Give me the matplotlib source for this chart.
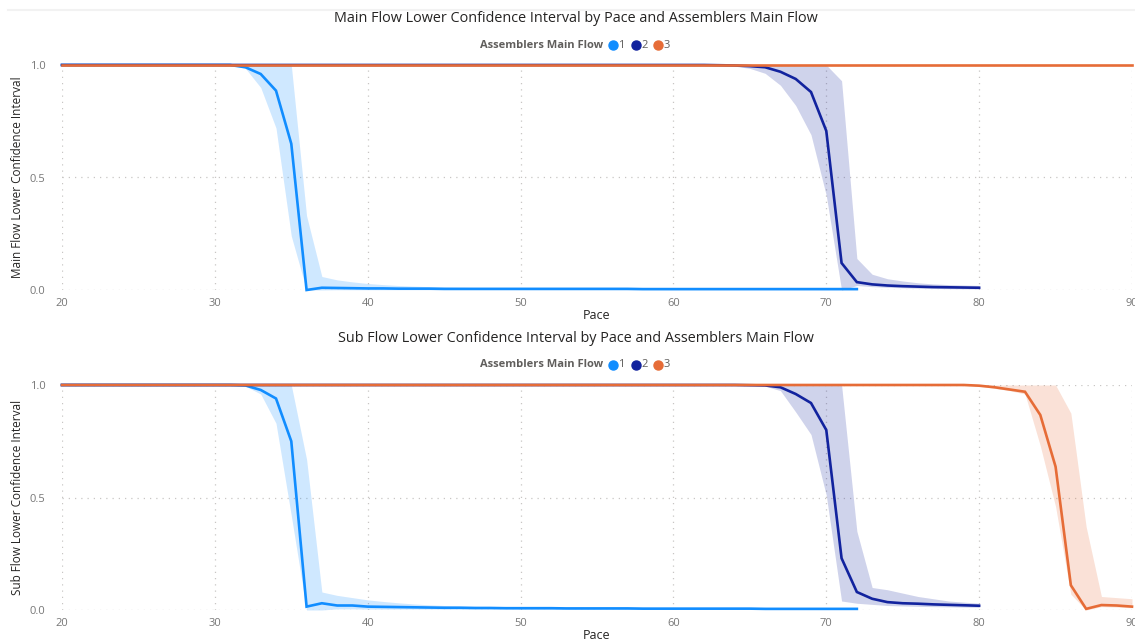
import matplotlib.pyplot as plt
import numpy as np
from matplotlib.lines import Line2D

plt.rcParams['font.family'] = ['Open Sans', 'DejaVu Sans']

W, H = 1135, 643

# ---- data: top chart (Main Flow) ----
main_pace_1 = list(range(20, 73))
main_mid_1 = [1.0, 1.0, 1.0, 1.0, 1.0, 1.0, 1.0, 1.0, 1.0, 1.0,
              1.0, 1.0, 0.99, 0.96, 0.886, 0.65, 0.0, 0.01, 0.009, 0.008,
              0.007, 0.007, 0.006, 0.006, 0.006, 0.005, 0.005, 0.005, 0.005, 0.005,
              0.005, 0.005, 0.005, 0.005, 0.005, 0.005, 0.005, 0.005, 0.004, 0.004,
              0.004, 0.004, 0.004, 0.004, 0.004, 0.004, 0.004, 0.004, 0.004, 0.004,
              0.004, 0.004, 0.004]
main_hi_1 = [1.0, 1.0, 1.0, 1.0, 1.0, 1.0, 1.0, 1.0, 1.0, 1.0,
             1.0, 1.0, 1.0, 1.0, 1.0, 1.0, 0.33, 0.06, 0.045, 0.036,
             0.029, 0.024, 0.02, 0.017, 0.015, 0.013, 0.012, 0.011, 0.011, 0.01,
             0.01, 0.01, 0.01, 0.01, 0.01, 0.01, 0.01, 0.01, 0.01, 0.01,
             0.01, 0.01, 0.009, 0.009, 0.009, 0.009, 0.009, 0.009, 0.008, 0.008,
             0.008, 0.008, 0.008]
main_lo_1 = [1.0, 1.0, 1.0, 1.0, 1.0, 1.0, 1.0, 1.0, 1.0, 1.0,
             1.0, 1.0, 0.985, 0.9, 0.72, 0.24, 0.0, 0.0, 0.001, 0.001,
             0.001, 0.001, 0.001, 0.001, 0.001, 0.001, 0.001, 0.001, 0.001, 0.001,
             0.001, 0.001, 0.001, 0.001, 0.001, 0.001, 0.001, 0.001, 0.001, 0.001,
             0.001, 0.001, 0.001, 0.001, 0.001, 0.001, 0.001, 0.001, 0.001, 0.001,
             0.001, 0.001, 0.001]

main_pace_2 = list(range(20, 81))
main_mid_2 = [1.0, 1.0, 1.0, 1.0, 1.0, 1.0, 1.0, 1.0, 1.0, 1.0,
              1.0, 1.0, 1.0, 1.0, 1.0, 1.0, 1.0, 1.0, 1.0, 1.0,
              1.0, 1.0, 1.0, 1.0, 1.0, 1.0, 1.0, 1.0, 1.0, 1.0,
              1.0, 1.0, 1.0, 1.0, 1.0, 1.0, 1.0, 1.0, 1.0, 1.0,
              1.0, 1.0, 1.0, 0.999, 0.998, 0.995, 0.99, 0.97, 0.938, 0.88,
              0.707, 0.12, 0.035, 0.025, 0.02, 0.017, 0.015, 0.013, 0.012, 0.011,
              0.01]
main_hi_2 = [1.0, 1.0, 1.0, 1.0, 1.0, 1.0, 1.0, 1.0, 1.0, 1.0,
             1.0, 1.0, 1.0, 1.0, 1.0, 1.0, 1.0, 1.0, 1.0, 1.0,
             1.0, 1.0, 1.0, 1.0, 1.0, 1.0, 1.0, 1.0, 1.0, 1.0,
             1.0, 1.0, 1.0, 1.0, 1.0, 1.0, 1.0, 1.0, 1.0, 1.0,
             1.0, 1.0, 1.0, 1.0, 1.0, 1.0, 1.0, 1.0, 1.0, 1.0,
             1.0, 0.93, 0.14, 0.07, 0.05, 0.04, 0.032, 0.027, 0.024, 0.022,
             0.02]
main_lo_2 = [1.0, 1.0, 1.0, 1.0, 1.0, 1.0, 1.0, 1.0, 1.0, 1.0,
             1.0, 1.0, 1.0, 1.0, 1.0, 1.0, 1.0, 1.0, 1.0, 1.0,
             1.0, 1.0, 1.0, 1.0, 1.0, 1.0, 1.0, 1.0, 1.0, 1.0,
             1.0, 1.0, 1.0, 1.0, 1.0, 1.0, 1.0, 1.0, 1.0, 1.0,
             1.0, 1.0, 1.0, 1.0, 0.995, 0.985, 0.963, 0.91, 0.82, 0.69,
             0.42, 0.0, 0.02, 0.015, 0.012, 0.01, 0.008, 0.007, 0.006, 0.005,
             0.005]

main_pace_3 = list(range(20, 91))
main_mid_3 = [1.0, 1.0, 1.0, 1.0, 1.0, 1.0, 1.0, 1.0, 1.0, 1.0,
              1.0, 1.0, 1.0, 1.0, 1.0, 1.0, 1.0, 1.0, 1.0, 1.0,
              1.0, 1.0, 1.0, 1.0, 1.0, 1.0, 1.0, 1.0, 1.0, 1.0,
              1.0, 1.0, 1.0, 1.0, 1.0, 1.0, 1.0, 1.0, 1.0, 1.0,
              1.0, 1.0, 1.0, 1.0, 1.0, 1.0, 1.0, 1.0, 1.0, 1.0,
              1.0, 1.0, 1.0, 1.0, 1.0, 1.0, 1.0, 1.0, 1.0, 1.0,
              1.0, 1.0, 1.0, 1.0, 1.0, 1.0, 1.0, 1.0, 1.0, 1.0,
              1.0]
# the band of series 3 collapses onto the line in the main flow chart
main_hi_3 = main_mid_3
main_lo_3 = main_mid_3

# ---- data: bottom chart (Sub Flow) ----
sub_pace_1 = list(range(20, 73))
sub_mid_1 = [1.0, 1.0, 1.0, 1.0, 1.0, 1.0, 1.0, 1.0, 1.0, 1.0,
             1.0, 1.0, 0.998, 0.978, 0.94, 0.75, 0.015, 0.03, 0.02, 0.02,
             0.015, 0.014, 0.013, 0.012, 0.011, 0.01, 0.01, 0.009, 0.009, 0.008,
             0.008, 0.008, 0.008, 0.007, 0.007, 0.007, 0.007, 0.007, 0.006, 0.006,
             0.006, 0.006, 0.006, 0.006, 0.006, 0.006, 0.005, 0.005, 0.005, 0.005,
             0.005, 0.005, 0.005]
sub_hi_1 = [1.0, 1.0, 1.0, 1.0, 1.0, 1.0, 1.0, 1.0, 1.0, 1.0,
            1.0, 1.0, 1.0, 1.0, 1.0, 1.0, 0.67, 0.08, 0.065, 0.055,
            0.045, 0.038, 0.032, 0.027, 0.023, 0.02, 0.018, 0.016, 0.015, 0.015,
            0.014, 0.014, 0.013, 0.013, 0.013, 0.012, 0.012, 0.012, 0.012, 0.011,
            0.011, 0.011, 0.011, 0.011, 0.011, 0.011, 0.011, 0.011, 0.011, 0.011,
            0.01, 0.01, 0.01]
sub_lo_1 = [1.0, 1.0, 1.0, 1.0, 1.0, 1.0, 1.0, 1.0, 1.0, 1.0,
            1.0, 1.0, 0.995, 0.96, 0.83, 0.42, 0.0, 0.0, 0.005, 0.005,
            0.004, 0.004, 0.004, 0.004, 0.004, 0.004, 0.004, 0.004, 0.004, 0.004,
            0.003, 0.003, 0.003, 0.003, 0.003, 0.003, 0.003, 0.003, 0.003, 0.003,
            0.003, 0.003, 0.003, 0.003, 0.003, 0.003, 0.003, 0.003, 0.003, 0.003,
            0.003, 0.003, 0.003]

sub_pace_2 = list(range(20, 81))
sub_mid_2 = [1.0, 1.0, 1.0, 1.0, 1.0, 1.0, 1.0, 1.0, 1.0, 1.0,
             1.0, 1.0, 1.0, 1.0, 1.0, 1.0, 1.0, 1.0, 1.0, 1.0,
             1.0, 1.0, 1.0, 1.0, 1.0, 1.0, 1.0, 1.0, 1.0, 1.0,
             1.0, 1.0, 1.0, 1.0, 1.0, 1.0, 1.0, 1.0, 1.0, 1.0,
             1.0, 1.0, 1.0, 1.0, 1.0, 0.999, 0.998, 0.99, 0.96, 0.92,
             0.8, 0.23, 0.08, 0.05, 0.035, 0.03, 0.028, 0.025, 0.023, 0.021,
             0.019]
sub_hi_2 = [1.0, 1.0, 1.0, 1.0, 1.0, 1.0, 1.0, 1.0, 1.0, 1.0,
            1.0, 1.0, 1.0, 1.0, 1.0, 1.0, 1.0, 1.0, 1.0, 1.0,
            1.0, 1.0, 1.0, 1.0, 1.0, 1.0, 1.0, 1.0, 1.0, 1.0,
            1.0, 1.0, 1.0, 1.0, 1.0, 1.0, 1.0, 1.0, 1.0, 1.0,
            1.0, 1.0, 1.0, 1.0, 1.0, 1.0, 1.0, 1.0, 1.0, 1.0,
            1.0, 1.0, 0.35, 0.1, 0.09, 0.075, 0.06, 0.05, 0.04, 0.035,
            0.03]
sub_lo_2 = [1.0, 1.0, 1.0, 1.0, 1.0, 1.0, 1.0, 1.0, 1.0, 1.0,
            1.0, 1.0, 1.0, 1.0, 1.0, 1.0, 1.0, 1.0, 1.0, 1.0,
            1.0, 1.0, 1.0, 1.0, 1.0, 1.0, 1.0, 1.0, 1.0, 1.0,
            1.0, 1.0, 1.0, 1.0, 1.0, 1.0, 1.0, 1.0, 1.0, 1.0,
            1.0, 1.0, 1.0, 1.0, 1.0, 1.0, 0.995, 0.975, 0.88, 0.78,
            0.51, 0.04, 0.03, 0.025, 0.02, 0.018, 0.016, 0.015, 0.014, 0.013,
            0.012]

sub_pace_3 = list(range(20, 91))
sub_mid_3 = [1.0, 1.0, 1.0, 1.0, 1.0, 1.0, 1.0, 1.0, 1.0, 1.0,
             1.0, 1.0, 1.0, 1.0, 1.0, 1.0, 1.0, 1.0, 1.0, 1.0,
             1.0, 1.0, 1.0, 1.0, 1.0, 1.0, 1.0, 1.0, 1.0, 1.0,
             1.0, 1.0, 1.0, 1.0, 1.0, 1.0, 1.0, 1.0, 1.0, 1.0,
             1.0, 1.0, 1.0, 1.0, 1.0, 1.0, 1.0, 1.0, 1.0, 1.0,
             1.0, 1.0, 1.0, 1.0, 1.0, 1.0, 1.0, 1.0, 1.0, 1.0,
             0.997, 0.99, 0.98, 0.97, 0.867, 0.637, 0.11, 0.005, 0.022, 0.02,
             0.015]
sub_hi_3 = [1.0, 1.0, 1.0, 1.0, 1.0, 1.0, 1.0, 1.0, 1.0, 1.0,
            1.0, 1.0, 1.0, 1.0, 1.0, 1.0, 1.0, 1.0, 1.0, 1.0,
            1.0, 1.0, 1.0, 1.0, 1.0, 1.0, 1.0, 1.0, 1.0, 1.0,
            1.0, 1.0, 1.0, 1.0, 1.0, 1.0, 1.0, 1.0, 1.0, 1.0,
            1.0, 1.0, 1.0, 1.0, 1.0, 1.0, 1.0, 1.0, 1.0, 1.0,
            1.0, 1.0, 1.0, 1.0, 1.0, 1.0, 1.0, 1.0, 1.0, 1.0,
            1.0, 1.0, 1.0, 1.0, 1.0, 1.0, 0.875, 0.37, 0.06, 0.055,
            0.05]
sub_lo_3 = [1.0, 1.0, 1.0, 1.0, 1.0, 1.0, 1.0, 1.0, 1.0, 1.0,
            1.0, 1.0, 1.0, 1.0, 1.0, 1.0, 1.0, 1.0, 1.0, 1.0,
            1.0, 1.0, 1.0, 1.0, 1.0, 1.0, 1.0, 1.0, 1.0, 1.0,
            1.0, 1.0, 1.0, 1.0, 1.0, 1.0, 1.0, 1.0, 1.0, 1.0,
            1.0, 1.0, 1.0, 1.0, 1.0, 1.0, 1.0, 1.0, 1.0, 1.0,
            1.0, 1.0, 1.0, 1.0, 1.0, 1.0, 1.0, 1.0, 1.0, 1.0,
            0.995, 0.985, 0.975, 0.96, 0.73, 0.46, 0.07, 0.0, 0.015, 0.013,
            0.01]

legend_labels = ["1", "2", "3"]
colors = ["#118DFF", "#12239E", "#E66C37"]
x_ticks = [20, 30, 40, 50, 60, 70, 80, 90]
y_ticks = [0.0, 0.5, 1.0]
y_tick_labels = ["0.0", "0.5", "1.0"]

TITLE_C = "#252423"
GREY = "#605E5C"
TICK_C = "#777777"
GRID_C = "#C8C6C4"


def fx(px):
    return px / W


def fy(py):
    return 1 - py / H


def draw_panel(top_px, title, ylabel, series):
    # series: list of (pace, mid, lo, hi)
    bottom_px = top_px + 225
    ax = fig.add_axes([fx(62), fy(bottom_px), fx(1132) - fx(62), 225 / H])
    for (pace, mid, lo, hi), c in zip(series, colors):
        ax.fill_between(pace, lo, hi, color=c, alpha=0.2, lw=0, clip_on=False)
    for (pace, mid, lo, hi), c in zip(series, colors):
        ax.plot(pace, mid, color=c, lw=1.9, clip_on=False, solid_joinstyle='miter')
    ax.set_xlim(20, 90)
    ax.set_ylim(0, 1)
    ax.set_xticks(x_ticks)
    ax.set_yticks(y_ticks)
    ax.set_yticklabels(y_tick_labels)
    ax.tick_params(length=0, colors=TICK_C, labelsize=8)
    ax.tick_params(axis='x', pad=6)
    ax.tick_params(axis='y', pad=12)
    for s in ax.spines.values():
        s.set_visible(False)
    ax.grid(True, color=GRID_C, lw=0.9, linestyle=(0, (1, 4)))
    ax.set_axisbelow(True)
    ax.set_xlabel("Pace", color=TITLE_C, fontsize=9, labelpad=0)
    ax.set_ylabel(ylabel, color=TITLE_C, fontsize=8.5, labelpad=4)

    # title and legend
    title_y = top_px - 47
    fig.text(fx(576), fy(title_y), title, ha='center', va='center',
             color=TITLE_C, fontsize=10.4)
    leg_y = top_px - 20
    fig.text(fx(603), fy(leg_y), "Assemblers Main Flow", ha='right', va='center',
             color=GREY, fontsize=8, fontweight='bold')
    for i, (lab, c) in enumerate(zip(legend_labels, colors)):
        cx = 613 + i * 22.5
        fig.add_artist(Line2D([fx(cx)], [fy(leg_y)], marker='o', markersize=6.5,
                              color=c, lw=0, transform=fig.transFigure))
        fig.text(fx(cx + 5.5), fy(leg_y), lab, ha='left', va='center',
                 color=GREY, fontsize=8)
    return ax


fig = plt.figure(figsize=(W / 100, H / 100), dpi=100)

# faint separator line at the top of the visual
fig.add_artist(Line2D([fx(8), 1], [fy(10), fy(10)], color="#F2F2F2", lw=1.5,
                      transform=fig.transFigure))

draw_panel(65, "Main Flow Lower Confidence Interval by Pace and Assemblers Main Flow",
           "Main Flow Lower Confidence Interval",
           [(main_pace_1, main_mid_1, main_lo_1, main_hi_1),
            (main_pace_2, main_mid_2, main_lo_2, main_hi_2),
            (main_pace_3, main_mid_3, main_lo_3, main_hi_3)])

draw_panel(385, "Sub Flow Lower Confidence Interval by Pace and Assemblers Main Flow",
           "Sub Flow Lower Confidence Interval",
           [(sub_pace_1, sub_mid_1, sub_lo_1, sub_hi_1),
            (sub_pace_2, sub_mid_2, sub_lo_2, sub_hi_2),
            (sub_pace_3, sub_mid_3, sub_lo_3, sub_hi_3)])

fig.savefig("out.png", dpi=100)
